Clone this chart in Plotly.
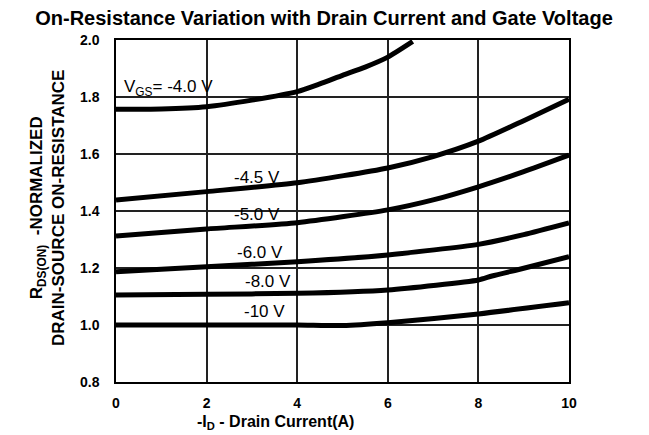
import plotly.graph_objects as go

# Vgs = -4.0 V
x_40 = [0, 1, 2, 3, 4, 4.5, 5, 5.5, 6, 6.55]
y_40 = [1.757, 1.758, 1.766, 1.789, 1.819, 1.846, 1.876, 1.905, 1.94, 1.995]
# Vgs = -4.5 V
x_45 = [0, 2, 4, 6, 7, 8, 9, 10]
y_45 = [1.439, 1.468, 1.499, 1.551, 1.591, 1.645, 1.717, 1.792]
# Vgs = -5.0 V
x_50 = [0, 2, 4, 6, 7, 8, 9, 10]
y_50 = [1.312, 1.337, 1.359, 1.404, 1.439, 1.485, 1.538, 1.596]
# Vgs = -6.0 V
x_60 = [0, 2, 4, 6, 8, 9, 10]
y_60 = [1.187, 1.204, 1.222, 1.246, 1.283, 1.317, 1.358]
# Vgs = -8.0 V
x_80 = [0, 2, 4, 6, 8, 8.3, 9, 10]
y_80 = [1.105, 1.108, 1.111, 1.123, 1.158, 1.172, 1.199, 1.24]
# Vgs = -10 V
x_100 = [0, 2, 4, 5, 6, 8, 10]
y_100 = [1.0, 1.0, 1.0, 0.998, 1.008, 1.039, 1.078]

series = [
    (x_40, y_40), (x_45, y_45), (x_50, y_50),
    (x_60, y_60), (x_80, y_80), (x_100, y_100),
]

label_texts = ["V<sub>GS</sub>= -4.0 V", "-4.5 V", "-5.0 V", "-6.0 V", "-8.0 V", "-10 V"]
label_x = [0.13, 3.66, 3.66, 3.72, 3.9, 3.77]
label_y = [1.832, 1.519, 1.386, 1.253, 1.151, 1.049]
label_anchor = ["left", "right", "right", "right", "right", "right"]

x_ticks = [0, 2, 4, 6, 8, 10]
y_ticks = [0.8, 1.0, 1.2, 1.4, 1.6, 1.8, 2.0]

FONT = "Liberation Sans, Arial, sans-serif"

fig = go.Figure()
for xs, ys in series:
    fig.add_trace(go.Scatter(
        x=xs, y=ys, mode="lines",
        line=dict(color="black", width=5, shape="spline", smoothing=0.6),
        showlegend=False, hoverinfo="skip",
    ))

for text, x, y, anchor in zip(label_texts, label_x, label_y, label_anchor):
    fig.add_annotation(
        x=x, y=y, text=text, showarrow=False,
        xanchor=anchor, yanchor="middle",
        font=dict(family=FONT, size=17, color="black"),
    )

# axis titles
fig.add_annotation(
    xref="paper", yref="paper", x=-0.150, y=0.509,
    text="<b>R<sub>DS(ON)</sub>  -NORMALIZED<br>DRAIN-SOURCE ON-RESISTANCE</b>",
    textangle=-90, showarrow=False, xanchor="center", yanchor="middle",
    font=dict(family=FONT, size=17, color="black"),
)
fig.add_annotation(
    xref="paper", yref="paper", x=0.351, y=-0.118,
    text="<b>-I<sub>D</sub> - Drain Current(A)</b>",
    showarrow=False, xanchor="center", yanchor="middle",
    font=dict(family=FONT, size=16, color="black"),
)

tick_font = dict(family=FONT, size=14, color="black")

fig.update_layout(
    width=641, height=427,
    margin=dict(l=108, r=80, t=32, b=53),
    paper_bgcolor="white", plot_bgcolor="white",
    title=dict(
        text="<b>On-Resistance Variation with Drain Current and Gate Voltage</b>",
        x=0.493, xanchor="center", y=0.992, yanchor="top",
        font=dict(family=FONT, size=20, color="black"),
    ),
    xaxis=dict(
        range=[0, 10], tickvals=x_ticks, ticktext=[f"<b>{v}</b>" for v in x_ticks],
        showgrid=True, gridcolor="#222222", gridwidth=1.5,
        showline=True, linecolor="black", linewidth=1.5, mirror=True,
        zeroline=False, ticks="", tickfont=tick_font, ticklabelstandoff=7,
        automargin=False,
    ),
    yaxis=dict(
        range=[0.8, 2.0], tickvals=y_ticks, ticktext=[f"<b>{v:.1f}</b>" for v in y_ticks],
        showgrid=True, gridcolor="#222222", gridwidth=1.5,
        showline=True, linecolor="black", linewidth=1.5, mirror=True,
        zeroline=False, ticks="", tickfont=tick_font, ticklabelstandoff=12,
        automargin=False,
    ),
)

fig.write_html("out.html")
